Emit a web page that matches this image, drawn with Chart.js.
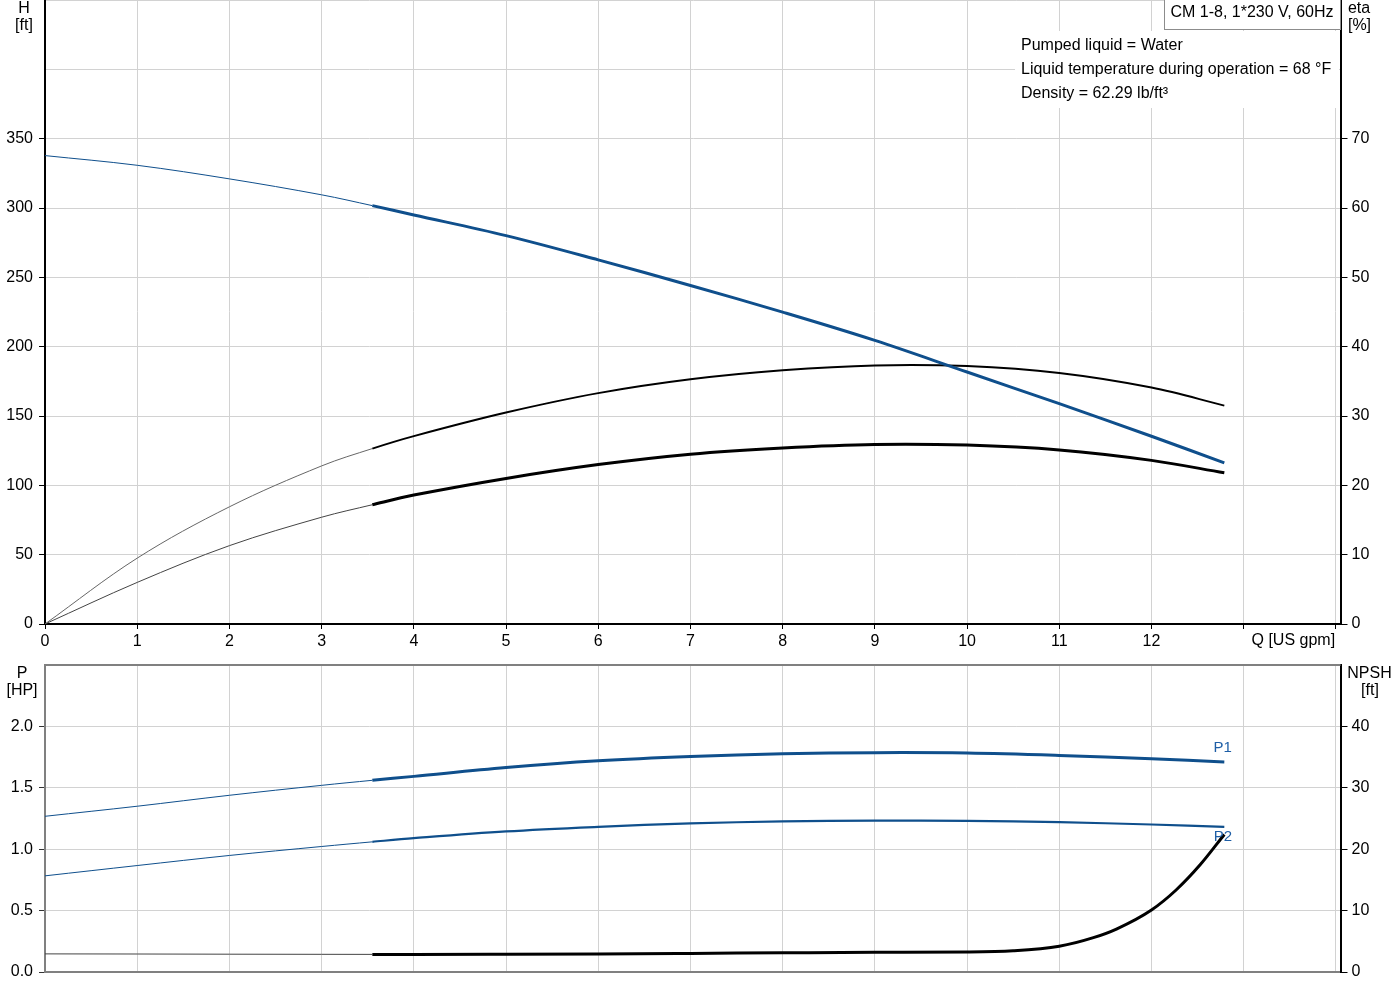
<!DOCTYPE html>
<html><head><meta charset="utf-8">
<script src="https://cdn.jsdelivr.net/npm/chart.js@4"></script>
<style>
html,body{margin:0;padding:0;background:#fff;width:1400px;height:1000px;overflow:hidden}
#top{position:absolute;left:0;top:0}
#bot{position:absolute;left:0;top:655px}
</style></head><body>
<canvas id="top" width="1400" height="655"></canvas>
<canvas id="bot" width="1400" height="345"></canvas>
<script>
// ---- data ----
const flow     = [0, 1, 2, 3, 3.55, 4, 5, 6, 7, 8, 9, 10, 11, 12, 12.79];
const head     = [337.8, 330.8, 321, 309.5, 301.7, 295, 280.1, 262.6, 244.1, 224.9, 204.5, 181.7, 158.9, 135.4, 116.2];
const etaPump  = [0, 9.5, 16.9, 22.8, 25.3, 27.1, 30.5, 33.3, 35.3, 36.6, 37.3, 37.2, 36.2, 34.1, 31.5];
const etaTotal = [0, 6.0, 11.3, 15.4, 17.2, 18.6, 21.0, 23.0, 24.5, 25.4, 25.9, 25.8, 25.1, 23.6, 21.8];
const powerP1  = [1.268, 1.35, 1.439, 1.52, 1.561, 1.593, 1.665, 1.72, 1.755, 1.777, 1.786, 1.783, 1.764, 1.737, 1.710];
const powerP2  = [0.783, 0.867, 0.949, 1.022, 1.06, 1.09, 1.145, 1.182, 1.21, 1.226, 1.233, 1.231, 1.22, 1.201, 1.181];
const npshFlow = [0, 1, 2, 3, 3.55, 4, 5, 6, 7, 8, 9, 10, 10.5, 11, 11.37, 11.62, 12, 12.27, 12.53, 12.79];
const npsh     = [2.95, 2.93, 2.9, 2.88, 2.87, 2.87, 2.9, 2.95, 3.03, 3.12, 3.2, 3.25, 3.45, 4.2, 5.6, 7.0, 10.1, 13.4, 17.5, 22.4];

const xTickLabels    = [0,1,2,3,4,5,6,7,8,9,10,11,12];
const xTickMarks     = [0,1,2,3,4,5,6,7,8,9,10,11,12,13,14];
const headTickLabels = [0,50,100,150,200,250,300,350];
const etaTickLabels  = [0,10,20,30,40,50,60,70];
const powerTickLabels= [0,0.5,1,1.5,2];
const npshTickLabels = [0,10,20,30,40];

const titleText = 'CM 1-8, 1*230 V, 60Hz';
const infoLines = ['Pumped liquid = Water', 'Liquid temperature during operation = 68 °F', 'Density = 62.29 lb/ft³'];

// ---- styling ----
const FONT = '"Liberation Sans", Arial, sans-serif';
Chart.defaults.font.family = FONT;
Chart.defaults.font.size = 16;
Chart.defaults.color = '#000';
Chart.defaults.animation = false;
const BLUE = '#0f4f8c';
const LBLUE = '#1e5ea6';
const GRID = '#d2d2d2';
const SPLIT = 3.5;

function pts(xs, ys){ return xs.map((x,i)=>({x:x, y:ys[i]})); }
function seg(thinW, thickW, thinC, thickC){
  return {
    borderWidth: c => c.p0.parsed.x < SPLIT ? thinW : thickW,
    borderColor: c => c.p0.parsed.x < SPLIT ? thinC : thickC
  };
}
function line(data, yId, thinW, thickW, thinC, thickC, mono){
  const d = { data: data, yAxisID: yId, borderColor: thickC, borderWidth: thickW,
    segment: seg(thinW, thickW, thinC, thickC), pointRadius: 0, fill: false,
    borderCapStyle: 'butt' };
  if (mono) d.cubicInterpolationMode = 'monotone'; else d.tension = 0.35;
  return d;
}
const fixV = s => { s.paddingTop = 0; s.paddingBottom = 0; };
const fixH = s => { s.paddingLeft = 0; s.paddingRight = 0; };
const tickCol = (list, col) => c => (c.tick && list.includes(c.tick.value)) ? col : 'rgba(0,0,0,0)';

function txt(ctx, t, x, y, align, color, size){
  ctx.save();
  ctx.font = (size||16) + 'px ' + FONT;
  ctx.fillStyle = color || '#000';
  ctx.textAlign = align || 'center';
  ctx.textBaseline = 'alphabetic';
  ctx.fillText(t, x, y);
  ctx.restore();
}

const topDeco = {
  id: 'topDeco',
  afterDraw(chart){
    const ctx = chart.ctx;
    txt(ctx, 'H', 24, 12.7);
    txt(ctx, '[ft]', 24, 30);
    txt(ctx, 'eta', 1359, 12.7);
    txt(ctx, '[%]', 1359.5, 30);
    txt(ctx, 'Q [US gpm]', 1251.5, 645, 'left');
    ctx.save();
    ctx.fillStyle = '#fff';
    ctx.fillRect(1015, 31, 324, 77);
    ctx.fillRect(1164.5, -1, 176, 30.5);
    ctx.strokeStyle = '#8c8c8c';
    ctx.lineWidth = 1;
    ctx.strokeRect(1164.5, -1, 176, 30.5);
    ctx.restore();
    txt(ctx, titleText, 1170.5, 17.3, 'left');
    infoLines.forEach((l,i)=> txt(ctx, l, 1021, 50 + i*23.8, 'left'));
  }
};

const botDeco = {
  id: 'botDeco',
  afterDraw(chart){
    const ctx = chart.ctx, a = chart.chartArea;
    ctx.save();
    ctx.strokeStyle = '#808080';
    ctx.lineWidth = 2;
    ctx.beginPath(); ctx.moveTo(a.left, a.top); ctx.lineTo(a.right, a.top); ctx.stroke();
    ctx.restore();
    txt(ctx, 'P', 22, 22.7);
    txt(ctx, '[HP]', 22, 40);
    txt(ctx, 'NPSH', 1369.5, 22.7);
    txt(ctx, '[ft]', 1370, 40);
    txt(ctx, 'P1', 1222.7, 97.3, 'center', LBLUE, 15);
    txt(ctx, 'P2', 1223, 186, 'center', LBLUE, 15);
  }
};

new Chart(document.getElementById('top'), {
  type: 'line',
  data: { datasets: [
    line(pts(flow, head), 'yH', 1, 3, BLUE, BLUE),
    line(pts(flow, etaPump), 'yE', 1, 2, '#666', '#000'),
    line(pts(flow, etaTotal), 'yE', 1, 3, '#444', '#000')
  ]},
  options: {
    responsive: false, animation: false, events: [],
    layout: { padding: 0 },
    plugins: { legend: { display: false }, tooltip: { enabled: false } },
    scales: {
      x: { type: 'linear', min: 0, max: 14.05,
        afterFit: s => { s.height = 31; fixH(s); },
        ticks: { stepSize: 1, includeBounds: false, autoSkip: false, maxRotation: 0, padding: 3,
          callback: v => xTickLabels.includes(v) ? String(v) : '' },
        grid: { color: GRID, tickColor: tickCol(xTickMarks, '#000'), tickLength: 5 },
        border: { color: '#000', width: 2 } },
      yH: { position: 'left', min: 0, max: 450,
        afterFit: s => { s.width = 45; fixV(s); },
        ticks: { stepSize: 50, padding: 6, callback: v => headTickLabels.includes(v) ? String(v) : '' },
        grid: { color: GRID, tickColor: tickCol(headTickLabels, '#000'), tickLength: 6 },
        border: { color: '#000', width: 2 } },
      yE: { position: 'right', min: 0, max: 90,
        afterFit: s => { s.width = 59.5; fixV(s); },
        ticks: { stepSize: 10, padding: 4, callback: v => etaTickLabels.includes(v) ? String(v) : '' },
        grid: { drawOnChartArea: false, tickColor: tickCol(etaTickLabels, '#000'), tickLength: 7 },
        border: { color: '#000', width: 2 } }
    }
  },
  plugins: [topDeco]
});

new Chart(document.getElementById('bot'), {
  type: 'line',
  data: { datasets: [
    line(pts(flow, powerP1), 'yP', 1, 3, BLUE, BLUE),
    line(pts(flow, powerP2), 'yP', 1, 2.2, BLUE, BLUE),
    line(pts(npshFlow, npsh), 'yN', 1, 3, '#444', '#000', true)
  ]},
  options: {
    responsive: false, animation: false, events: [],
    layout: { padding: { top: 10, left: 0, right: 0, bottom: 0 } },
    plugins: { legend: { display: false }, tooltip: { enabled: false } },
    scales: {
      x: { type: 'linear', min: 0, max: 14.05,
        afterFit: s => { s.height = 28; fixH(s); },
        ticks: { display: false, stepSize: 1, includeBounds: false, autoSkip: false },
        grid: { color: GRID, drawTicks: false },
        border: { color: '#808080', width: 2 } },
      yP: { position: 'left', min: 0, max: 2.5,
        afterFit: s => { s.width = 45; fixV(s); },
        ticks: { stepSize: 0.5, padding: 6, callback: v => powerTickLabels.includes(v) ? v.toFixed(1) : '' },
        grid: { color: GRID, tickColor: tickCol(powerTickLabels, '#333'), tickLength: 6 },
        border: { color: '#808080', width: 2 } },
      yN: { position: 'right', min: 0, max: 50,
        afterFit: s => { s.width = 59.5; fixV(s); },
        ticks: { stepSize: 10, padding: 4, callback: v => npshTickLabels.includes(v) ? String(v) : '' },
        grid: { drawOnChartArea: false, tickColor: tickCol(npshTickLabels, '#000'), tickLength: 7 },
        border: { color: '#000', width: 2 } }
    }
  },
  plugins: [botDeco]
});
</script>
</body></html>
